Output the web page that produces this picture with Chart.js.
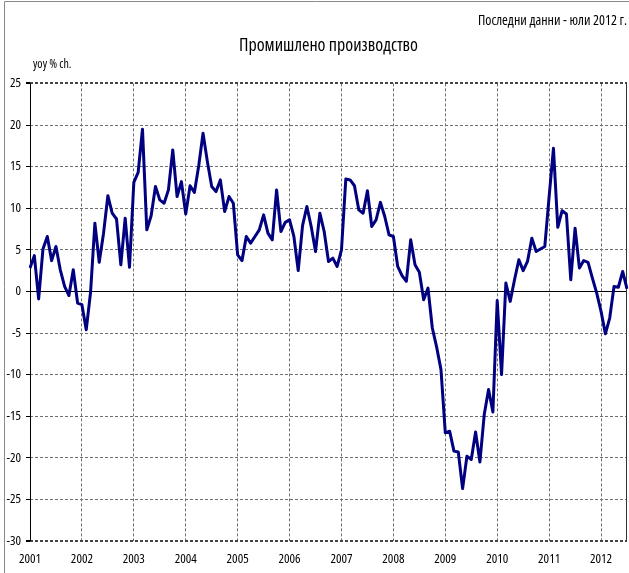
<!DOCTYPE html>
<html>
<head>
<meta charset="utf-8">
<script src="https://cdn.jsdelivr.net/npm/chart.js@4.4.1/dist/chart.umd.min.js"></script>
<style>
  html, body { margin: 0; padding: 0; background: #ffffff; }
  #wrap { position: relative; width: 629px; height: 573px; }
  canvas { display: block; }
</style>
</head>
<body>
<div id="wrap"><canvas id="c" width="629" height="573"></canvas></div>
<script>
// ---- data (year-over-year % change, monthly) ----
const years = [2001, 2002, 2003, 2004, 2005, 2006, 2007, 2008, 2009, 2010, 2011, 2012];
const v2001 = [2.8, 4.3, -0.9, 5.1, 6.6, 3.7, 5.4, 2.6, 0.6, -0.5, 2.6, -1.4];
const v2002 = [-1.6, -4.6, -0.1, 8.2, 3.5, 7.0, 11.5, 9.4, 8.7, 3.2, 8.8, 2.9];
const v2003 = [13.1, 14.3, 19.5, 7.4, 9.1, 12.6, 11.0, 10.6, 12.2, 17.0, 11.4, 13.2];
const v2004 = [9.3, 12.7, 11.9, 15.1, 19.0, 15.6, 12.6, 12.0, 13.4, 9.6, 11.4, 10.6];
const v2005 = [4.4, 3.7, 6.6, 5.8, 6.6, 7.4, 9.2, 7.0, 6.2, 12.2, 7.2, 8.3];
const v2006 = [8.6, 6.6, 2.5, 7.9, 10.2, 7.8, 4.8, 9.4, 7.2, 3.6, 4.0, 3.0];
const v2007 = [5.0, 13.5, 13.4, 12.7, 9.8, 9.4, 12.1, 7.8, 8.6, 10.7, 9.0, 6.8];
const v2008 = [6.6, 3.0, 1.9, 1.2, 6.2, 3.2, 2.3, -1.0, 0.4, -4.4, -6.7, -9.4];
const v2009 = [-17.0, -16.8, -19.2, -19.3, -23.7, -19.8, -20.2, -16.9, -20.5, -14.8, -11.8, -14.5];
const v2010 = [-1.1, -10.0, 1.0, -1.2, 1.4, 3.8, 2.5, 3.6, 6.4, 4.8, 5.1, 5.4];
const v2011 = [11.4, 17.2, 7.7, 9.7, 9.3, 1.4, 7.6, 2.8, 3.7, 3.5, 1.6, -0.2];
const v2012 = [-2.4, -5.1, -3.2, 0.6, 0.5, 2.4, 0.3];
const yTicks = [25, 20, 15, 10, 5, 0, -5, -10, -15, -20, -25, -30];

const titleText = 'Промишлено производство';
const noteText = 'Последни данни - юли 2012 г.';
const unitText = 'yoy % ch.';

// ---- build categories & series ----
const series = [].concat(v2001, v2002, v2003, v2004, v2005, v2006, v2007, v2008, v2009, v2010, v2011, v2012);
const labels = series.map((_, i) => years[Math.floor(i / 12)] + '-' + String(i % 12 + 1).padStart(2, '0'));

const FAMILY = "'Open Sans', 'DejaVu Sans Condensed', sans-serif";
const STRETCH = 'condensed';   // placed in the CSS font shorthand (via weight slot)
const GRID = '#707070';

Chart.defaults.font.family = FAMILY;
Chart.defaults.font.weight = STRETCH;
Chart.defaults.color = '#000000';

const decor = {
  id: 'decor',
  beforeDraw(chart) {
    const ctx = chart.ctx;
    ctx.save();
    ctx.strokeStyle = '#8a8a8a';
    ctx.lineWidth = 1;
    ctx.beginPath();
    ctx.moveTo(4.5, 573);
    ctx.lineTo(4.5, 1.5);
    ctx.lineTo(629, 1.5);
    ctx.stroke();
    ctx.restore();
  },
  beforeDatasetsDraw(chart) {
    const ctx = chart.ctx;
    const a = chart.chartArea;
    const y0 = Math.round(chart.scales.y.getPixelForValue(0)) + 0.5;
    ctx.save();
    ctx.strokeStyle = '#000000';
    ctx.lineWidth = 1;
    ctx.setLineDash([]);
    ctx.beginPath();
    ctx.moveTo(a.left, y0);
    ctx.lineTo(a.right, y0);
    ctx.stroke();
    ctx.beginPath();
    ctx.moveTo(Math.round(a.left) + 0.5, a.top);
    ctx.lineTo(Math.round(a.left) + 0.5, a.bottom);
    ctx.stroke();
    ctx.strokeStyle = '#333333';
    ctx.beginPath();
    ctx.moveTo(Math.round(a.right) - 0.5, a.top);
    ctx.lineTo(Math.round(a.right) - 0.5, a.bottom);
    ctx.stroke();
    ctx.restore();
  },
  afterDraw(chart) {
    const ctx = chart.ctx;
    const a = chart.chartArea;
    ctx.save();
    ctx.fillStyle = '#000000';
    ctx.font = STRETCH + ' 12px ' + FAMILY;
    ctx.textAlign = 'left';
    ctx.textBaseline = 'middle';
    ctx.fillText(unitText, a.left + 3, a.top - 19);
    ctx.restore();
  }
};

new Chart(document.getElementById('c'), {
  type: 'line',
  data: {
    labels: labels,
    datasets: [{
      data: series,
      borderColor: '#000080',
      borderWidth: 3,
      pointRadius: 0,
      tension: 0,
      fill: false,
      borderJoinStyle: 'round'
    }]
  },
  options: {
    responsive: false,
    animation: false,
    devicePixelRatio: 1,
    layout: { padding: { left: 0, right: 2, top: 0, bottom: 0 } },
    plugins: {
      legend: { display: false },
      tooltip: { enabled: false },
      title: {
        display: true,
        text: noteText,
        align: 'end',
        color: '#000000',
        font: { size: 14, weight: STRETCH },
        padding: { top: 13, bottom: 3 }
      },
      subtitle: {
        display: true,
        fullSize: false,
        text: titleText,
        align: 'center',
        color: '#000000',
        font: { size: 18, weight: STRETCH },
        padding: { top: 2, bottom: 27 }
      }
    },
    scales: {
      x: {
        type: 'category',
        offset: false,
        grid: {
          display: true,
          offset: false,
          drawTicks: true,
          tickLength: 10,
          tickColor: 'rgba(0,0,0,0)',
          lineWidth: 1,
          color: (c) => (c.index % 12 === 0 && c.index > 0) ? GRID : 'rgba(0,0,0,0)'
        },
        border: { display: false, dash: [3, 2] },
        ticks: {
          autoSkip: false,
          maxRotation: 0,
          minRotation: 0,
          padding: 0,
          color: '#000000',
          font: { size: 13 },
          callback: function (val, idx) { return idx % 12 === 0 ? String(years[idx / 12]) : ''; }
        },
        afterFit: (s) => { s.height = 32; }
      },
      y: {
        type: 'linear',
        min: yTicks[yTicks.length - 1],
        max: yTicks[0],
        afterBuildTicks: (s) => { s.ticks = yTicks.map(v => ({ value: v })); },
        grid: {
          display: true,
          drawTicks: true,
          tickLength: 4,
          tickColor: '#000000',
          tickBorderDash: [],
          lineWidth: (c) => (c.tick && (c.tick.value === 25 || c.tick.value === -30)) ? 2 : 1,
          color: (c) => {
            if (!c.tick) return GRID;
            if (c.tick.value === 25 || c.tick.value === -30) return '#444444';
            if (c.tick.value === 0) return 'rgba(0,0,0,0)';
            return GRID;
          }
        },
        border: { display: false, dash: [3, 2] },
        ticks: {
          padding: 5,
          color: '#000000',
          font: { size: 13 }
        },
        afterFit: (s) => { s.width = 30; }
      }
    }
  },
  plugins: [decor]
});
</script>
</body>
</html>
